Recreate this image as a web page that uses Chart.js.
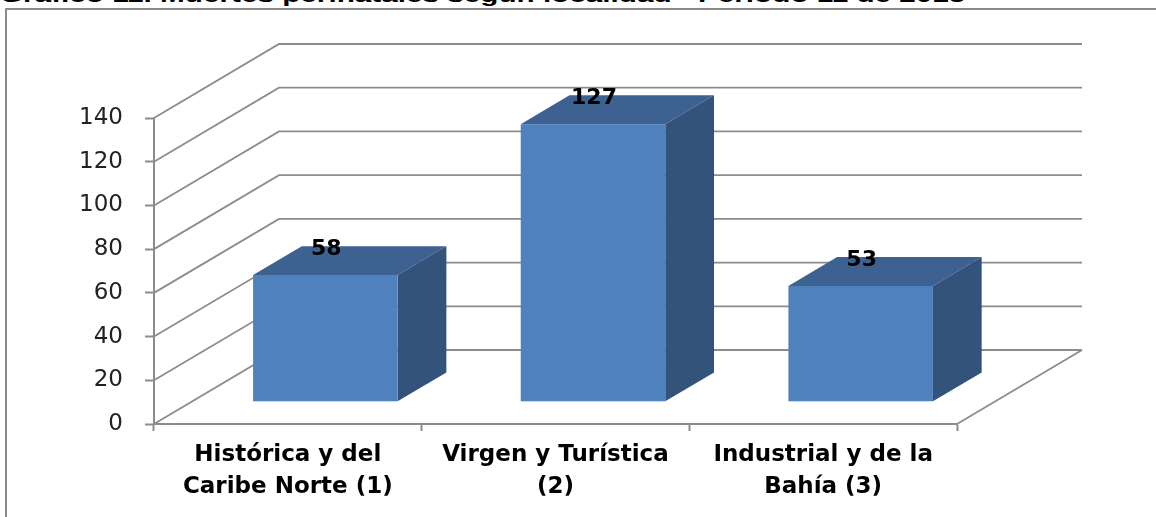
<!DOCTYPE html>
<html>
<head>
<meta charset="utf-8">
<script src="https://cdn.jsdelivr.net/npm/chart.js@4/dist/chart.umd.min.js"></script>
<style>
  html, body { margin: 0; padding: 0; background: #fff; overflow: hidden; }
  #wrap { position: relative; width: 1156px; height: 517px; overflow: hidden; }
  #frame { position: absolute; left: 5px; top: 8px; width: 1300px; height: 700px; border-left: 2px solid #8c8c8c; border-top: 2px solid #8c8c8c; }
  #title { position: absolute; left: 0; top: -15px; font: bold 20px "Liberation Sans", Arial, sans-serif; line-height: 20px; white-space: nowrap; transform-origin: 0 0; color: #000; }
  #chart { position: absolute; left: 0; top: 0; }
</style>
</head>
<body>
<div id="wrap">
  <div id="frame"></div>
  <div id="title">Gráfico 11. Muertes perinatales según localidad - Periodo 11 de 2015</div>
  <canvas id="chart" width="1156" height="517"></canvas>
</div>
<script>
// data
const categories = [
  ['Histórica y del', 'Caribe Norte (1)'],
  ['Virgen y Turística', '(2)'],
  ['Industrial y de la', 'Bahía (3)']
];
const deaths = [58, 127, 53];
const yTicks = [0, 20, 40, 60, 80, 100, 120, 140];

// 3d look (pixels of full floor depth)
const WALL_DX = 125, WALL_DY = -74;
const BAR_FRONT = 0.30, BAR_DEPTH = 0.39;
const GRID = '#8c8c8c';

// stretch the cut-off title to its width in the picture
const title = document.getElementById('title');
title.style.transform = 'scaleX(' + (965 / title.offsetWidth) + ')';

const box3d = {
  id: 'box3d',
  beforeDatasetsDraw(chart) {
    const { ctx, chartArea: a, scales: { x, y } } = chart;
    ctx.save();
    ctx.strokeStyle = GRID;
    ctx.lineWidth = 1.8;
    // side wall + back wall gridlines
    yTicks.forEach(function(v) {
      const py = y.getPixelForValue(v);
      ctx.beginPath();
      ctx.moveTo(a.left, py);
      ctx.lineTo(a.left + WALL_DX, py + WALL_DY);
      ctx.lineTo(a.right + WALL_DX, py + WALL_DY);
      ctx.stroke();
    });
    // floor right edge
    ctx.beginPath();
    ctx.moveTo(a.right, a.bottom);
    ctx.lineTo(a.right + WALL_DX, a.bottom + WALL_DY);
    ctx.stroke();
    ctx.restore();
  },
  afterDatasetsDraw(chart) {
    const ctx = chart.ctx;
    const meta = chart.getDatasetMeta(0);
    const fx = WALL_DX * BAR_FRONT, fy = WALL_DY * BAR_FRONT;
    const bx = WALL_DX * BAR_DEPTH, by = WALL_DY * BAR_DEPTH;
    ctx.save();
    meta.data.forEach(function(el, i) {
      const l = el.x - el.width / 2 + fx, r = l + el.width;
      const t = el.y + fy, b = el.base + fy;
      // top face
      ctx.fillStyle = '#3d6190';
      ctx.beginPath();
      ctx.moveTo(l, t); ctx.lineTo(l + bx, t + by); ctx.lineTo(r + bx, t + by); ctx.lineTo(r, t);
      ctx.closePath(); ctx.fill();
      // side face
      ctx.fillStyle = '#33537b';
      ctx.beginPath();
      ctx.moveTo(r, t); ctx.lineTo(r + bx, t + by); ctx.lineTo(r + bx, b + by); ctx.lineTo(r, b);
      ctx.closePath(); ctx.fill();
      // front face
      ctx.fillStyle = '#4f81bd';
      ctx.fillRect(l, t, r - l, b - t);
      // value label
      ctx.fillStyle = '#000';
      ctx.font = 'bold 22px "DejaVu Sans", sans-serif';
      ctx.textAlign = 'center';
      ctx.textBaseline = 'middle';
      ctx.fillText(String(deaths[i]), el.x + fx + 1, t - 26);
    });
    ctx.restore();
  }
};

new Chart(document.getElementById('chart'), {
  type: 'bar',
  data: {
    labels: categories,
    datasets: [{ data: deaths, backgroundColor: 'rgba(0,0,0,0)', borderWidth: 0, categoryPercentage: 1, barPercentage: 0.54 }]
  },
  options: {
    responsive: false,
    animation: false,
    layout: { padding: { left: 0, top: 118, right: 199, bottom: 0 } },
    plugins: { legend: { display: false }, tooltip: { enabled: false } },
    scales: {
      x: {
        grid: { drawOnChartArea: false, tickLength: 7, tickColor: GRID, tickWidth: 2 },
        border: { color: GRID, width: 2 },
        ticks: { color: '#000', padding: 8, maxRotation: 0, font: { family: 'DejaVu Sans', size: 23, weight: 'bold', lineHeight: 1.4 } },
        afterFit: function(s) { s.height = 93; }
      },
      y: {
        min: 0, max: 140,
        afterBuildTicks: function(s) { s.ticks = yTicks.map(function(v) { return { value: v }; }); },
        grid: { drawOnChartArea: false, tickLength: 9, tickColor: GRID, tickWidth: 2 },
        border: { color: GRID, width: 2 },
        ticks: { color: '#222', padding: 22, font: { family: 'DejaVu Sans', size: 23 } },
        afterFit: function(s) { s.width = 154; }
      }
    }
  },
  plugins: [box3d]
});
</script>
</body>
</html>
